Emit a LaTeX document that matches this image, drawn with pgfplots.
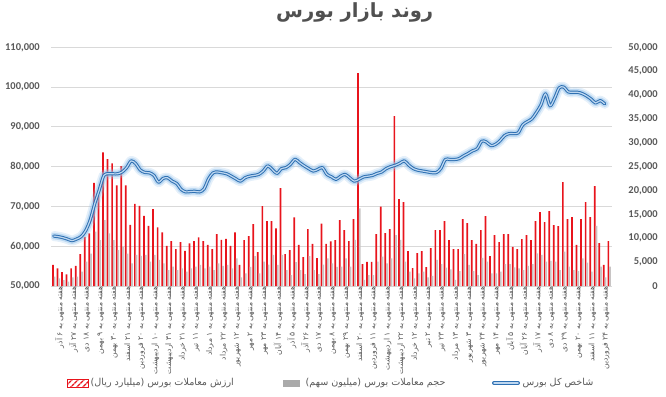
\documentclass[border=0pt]{standalone}
\usepackage{fontspec}
\setmainfont{Carlito}
\newfontfamily\farsi[Script=Arabic]{DejaVu Sans}
\TeXXeTstate=1
\usepackage{pgfplots}
\usepackage{pgfplotstable}
\pgfplotsset{compat=1.18}
\usetikzlibrary{patterns.meta}
\definecolor{barred}{RGB}{232,20,28}
\definecolor{barsgray}{RGB}{200,196,196}
\definecolor{legendgray}{RGB}{170,170,170}
\definecolor{linedark}{RGB}{46,112,178}
\definecolor{linelight}{RGB}{190,215,240}
\definecolor{glow}{RGB}{150,195,235}
\definecolor{gridgray}{RGB}{217,217,217}
\definecolor{textgray}{RGB}{89,89,89}
\definecolor{titlegray}{RGB}{80,80,80}

\pgfplotstableread[row sep=\\]{
i v\\
0 62550\\ 1 62400\\ 2 62150\\ 3 61800\\ 4 61400\\ 5 61800\\ 6 62400\\ 7 63900\\ 8 66600\\ 9 70700\\
10 74200\\ 11 77800\\ 12 78200\\ 13 78200\\ 14 78200\\ 15 78650\\ 16 79750\\ 17 81450\\ 18 80750\\ 19 79150\\
20 78550\\ 21 78450\\ 22 77800\\ 23 76100\\ 24 77050\\ 25 77200\\ 26 76350\\ 27 75750\\ 28 74250\\ 29 73650\\
30 73750\\ 31 73800\\ 32 73650\\ 33 74400\\ 34 76950\\ 35 78450\\ 36 78650\\ 37 78450\\ 38 78200\\ 39 77600\\
40 76950\\ 41 76350\\ 42 77200\\ 43 77600\\ 44 77800\\ 45 78050\\ 46 78900\\ 47 80200\\ 48 79300\\ 49 78300\\
50 79500\\ 51 79750\\ 52 80600\\ 53 81850\\ 54 81000\\ 55 80200\\ 56 79500\\ 57 78900\\ 58 79300\\ 59 79750\\
60 78050\\ 61 77450\\ 62 76800\\ 63 77600\\ 64 78050\\ 65 77200\\ 66 76350\\ 67 76800\\ 68 77400\\ 69 77600\\
70 77800\\ 71 78300\\ 72 78650\\ 73 79500\\ 74 80000\\ 75 80350\\ 76 80850\\ 77 81450\\ 78 80350\\ 79 79500\\
80 79100\\ 81 78900\\ 82 78700\\ 83 78500\\ 84 78500\\ 85 79500\\ 86 81800\\ 87 81800\\ 88 81800\\ 89 82000\\
90 82700\\ 91 83300\\ 92 84000\\ 93 84500\\ 94 86400\\ 95 86200\\ 96 85300\\ 97 85600\\ 98 86500\\ 99 87800\\
100 88300\\ 101 88300\\ 102 88500\\ 103 90500\\ 104 91300\\ 105 92000\\ 106 93600\\ 107 95500\\ 108 98300\\ 109 95300\\
110 97200\\ 111 99800\\ 112 100000\\ 113 98800\\ 114 98700\\ 115 98700\\ 116 98400\\ 117 97800\\ 118 97000\\ 119 96000\\
120 96600\\ 121 95800\\
}\indexdata

\pgfplotstableread[row sep=\\]{
i r g\\
0 4400 1950\\ 1 3700 1600\\ 2 2900 1250\\ 3 2450 900\\ 4 3700 1800\\ 5 4200 1950\\ 6 6700 3000\\ 7 10300 5100\\ 8 11000 6800\\ 9 21600 11400\\
10 19000 9600\\ 11 28000 13800\\ 12 26600 11000\\ 13 25700 9600\\ 14 21100 7500\\ 15 25100 8200\\ 16 21100 6800\\ 17 12800 4750\\ 18 17200 6500\\ 19 16800 6300\\
20 14700 6500\\ 21 12600 5100\\ 22 16100 6500\\ 23 12300 5450\\ 24 11250 4750\\ 25 8400 3350\\ 26 9400 4050\\ 27 7750 3350\\ 28 9200 3700\\ 29 7350 3000\\
30 8950 3700\\ 31 9400 4050\\ 32 10200 4400\\ 33 9400 3700\\ 34 8600 4050\\ 35 7750 3350\\ 36 10850 4750\\ 37 9650 4200\\ 38 9850 4400\\ 39 8400 3700\\
40 11250 5800\\ 41 4400 1800\\ 42 9630 2650\\ 43 10470 4000\\ 44 12980 6280\\ 45 7120 2650\\ 46 16750 5100\\ 47 13610 4500\\ 48 13610 6500\\ 49 12080 4400\\
50 20520 6500\\ 51 6700 3350\\ 52 7540 2300\\ 53 14380 5000\\ 54 8590 3350\\ 55 6070 2500\\ 56 11940 6280\\ 57 8800 3350\\ 58 5860 2500\\ 59 13050 4500\\
60 8800 5800\\ 61 9350 4750\\ 62 9630 4000\\ 63 13820 4050\\ 64 11730 5800\\ 65 9420 4050\\ 66 14030 9640\\ 67 44600 16270\\ 68 4600 1260\\ 69 5030 2300\\
70 5030 2300\\ 71 10890 5100\\ 72 16610 6150\\ 73 11100 4750\\ 74 11940 5800\\ 75 35600 10680\\ 76 18220 9640\\ 77 17590 5100\\ 78 7330 3000\\ 79 3770 1600\\
80 6910 2650\\ 81 7330 3000\\ 82 3980 1800\\ 83 7960 2100\\ 84 11730 5450\\ 85 11730 4600\\ 86 13610 3840\\ 87 9630 3500\\ 88 7750 1260\\ 89 7750 3140\\
90 14030 6700\\ 91 13190 4400\\ 92 9630 3140\\ 93 8800 2300\\ 94 11730 5870\\ 95 14660 5100\\ 96 6280 2650\\ 97 10680 2650\\ 98 9210 3000\\ 99 10890 4600\\
100 10890 4600\\ 101 8170 3900\\ 102 7750 3700\\ 103 9840 3350\\ 104 10680 4200\\ 105 9630 4600\\ 106 13610 6850\\ 107 15500 6500\\ 108 13400 5100\\ 109 15710 5240\\
110 12770 5100\\ 111 12560 3350\\ 112 21780 7190\\ 113 14030 4050\\ 114 14450 3350\\ 115 8590 3140\\ 116 14030 5800\\ 117 17590 4880\\ 118 14450 3000\\ 119 20940 12570\\
120 9000 4050\\ 121 4400 1800\\ 122 9420 4050\\
}\bardata

\begin{document}
\begin{tikzpicture}
\pgfplotsset{
  common/.style={
    at={(0pt,0pt)}, anchor=south west, scale only axis,
    width=560pt, height=238.7pt,
    xmin=-0.5, xmax=122.5,
    scaled y ticks=false,
    major tick length=0pt,
  },
}
% bars (right axis)
\begin{axis}[common,
  ymin=0, ymax=50000,
  axis y line*=right, axis x line*=bottom,
  x axis line style={-, draw=gridgray, line width=0.8pt},
  y axis line style={draw=none},
  ytick={0,5000,...,50000},
  yticklabels={0,{5,000},{10,000},{15,000},{20,000},{25,000},{30,000},{35,000},{40,000},{45,000},{50,000}},
  extra y ticks={8333.333,16666.667,25000,33333.333,41666.667,50000},
  extra y tick labels={},
  extra y tick style={grid=major},
  grid style={gridgray, line width=0.8pt},
  yticklabel style={anchor=east, inner sep=0pt, xshift=46.5pt, text=textgray, font=\bfseries\fontsize{10.5}{12}\selectfont},
  xtick={0,3,...,120},
  xticklabels={
  {\beginR هفته منتهی به ۶ آذر\endR},
  {\beginR هفته منتهی به ۲۷ آذر\endR},
  {\beginR هفته منتهی به ۱۸ دی\endR},
  {\beginR هفته منتهی به ۹ بهمن\endR},
  {\beginR هفته منتهی به ۳۰ بهمن\endR},
  {\beginR هفته منتهی به ۲۱ اسفند\endR},
  {\beginR هفته منتهی به ۲۰ فروردین\endR},
  {\beginR هفته منتهی به ۱۰ اردیبهشت\endR},
  {\beginR هفته منتهی به ۳۱ اردیبهشت\endR},
  {\beginR هفته منتهی به ۲۱ خرداد\endR},
  {\beginR هفته منتهی به ۱۱ تیر\endR},
  {\beginR هفته منتهی به ۱ مرداد\endR},
  {\beginR هفته منتهی به ۲۲ مرداد\endR},
  {\beginR هفته منتهی به ۱۲ شهریور\endR},
  {\beginR هفته منتهی به ۲ مهر\endR},
  {\beginR هفته منتهی به ۲۳ مهر\endR},
  {\beginR هفته منتهی به ۱۴ آبان\endR},
  {\beginR هفته منتهی به ۵ آذر\endR},
  {\beginR هفته منتهی به ۲۶ آذر\endR},
  {\beginR هفته منتهی به ۱۷ دی\endR},
  {\beginR هفته منتهی به ۸ بهمن\endR},
  {\beginR هفته منتهی به ۲۹ بهمن\endR},
  {\beginR هفته منتهی به ۲۰ اسفند\endR},
  {\beginR هفته منتهی به ۱۱ فروردین\endR},
  {\beginR هفته منتهی به ۱ اردیبهشت\endR},
  {\beginR هفته منتهی به ۲۲ اردیبهشت\endR},
  {\beginR هفته منتهی به ۱۲ خرداد\endR},
  {\beginR هفته منتهی به ۲ تیر\endR},
  {\beginR هفته منتهی به ۲۳ تیر\endR},
  {\beginR هفته منتهی به ۱۳ مرداد\endR},
  {\beginR هفته منتهی به ۳ شهریور\endR},
  {\beginR هفته منتهی به ۲۴ شهریور\endR},
  {\beginR هفته منتهی به ۱۴ مهر\endR},
  {\beginR هفته منتهی به ۵ آبان\endR},
  {\beginR هفته منتهی به ۲۶ آبان\endR},
  {\beginR هفته منتهی به ۱۷ آذر\endR},
  {\beginR هفته منتهی به ۸ دی\endR},
  {\beginR هفته منتهی به ۲۹ دی\endR},
  {\beginR هفته منتهی به ۲۰ بهمن\endR},
  {\beginR هفته منتهی به ۱۱ اسفند\endR},
  {\beginR هفته منتهی به ۲۴ فروردین\endR}},
  xticklabel style={rotate=90, anchor=east, inner sep=0pt, yshift=-6pt, text=textgray, font=\farsi\fontsize{7.6}{8.5}\selectfont},
  ybar=0pt, bar width=1.7pt,
]
\addplot[fill=barred, draw=none] table[x=i, y=r] {\bardata};
\addplot[fill=barsgray, draw=none] table[x=i, y=g] {\bardata};
\end{axis}
% index (left axis)
\begin{axis}[common,
  ymin=50000, ymax=110000,
  axis y line*=left, axis x line=none,
  y axis line style={draw=none},
  ytick={50000,60000,...,110000},
  yticklabels={{50,000},{60,000},{70,000},{80,000},{90,000},{100,000},{110,000}},
  yticklabel style={anchor=east, inner sep=0pt, xshift=-11.5pt, text=textgray, font=\bfseries\fontsize{10.5}{12}\selectfont},
]
\addplot[smooth, line width=10pt, color=glow, opacity=0.25, line cap=round, line join=round] table[x=i, y=v] {\indexdata};
\addplot[smooth, line width=6.5pt, color=glow, opacity=0.5, line cap=round, line join=round] table[x=i, y=v] {\indexdata};
\addplot[smooth, line width=3.2pt, color=linedark, line cap=round, line join=round] table[x=i, y=v] {\indexdata};
\addplot[smooth, line width=1.2pt, color=linelight, line cap=round, line join=round] table[x=i, y=v] {\indexdata};
\end{axis}
% title
\node[anchor=west, inner sep=0pt, font=\farsi\bfseries\fontsize{19.5}{23}\selectfont, text=titlegray] at (224.5pt,274pt) {\beginR روند بازار بورس\endR};
% legend
\draw[draw=barred, line width=0.8pt, pattern={Lines[angle=45,distance=4pt,line width=1.6pt]}, pattern color=barred] (15.5pt,-101pt) rectangle (36.5pt,-93pt);
\node[anchor=west, inner sep=0pt, font=\farsi\fontsize{9.6}{11}\selectfont, text=textgray] at (39pt,-97pt) {\beginR ارزش معاملات بورس (میلیارد ریال)\endR};
\fill[legendgray] (231.5pt,-100.5pt) rectangle (248.5pt,-93.5pt);
\node[anchor=west, inner sep=0pt, font=\farsi\fontsize{9.6}{11}\selectfont, text=textgray] at (254pt,-97pt) {\beginR حجم معاملات بورس (میلیون سهم)\endR};
\draw[linedark, line width=4pt, line cap=round] (442.5pt,-97pt) -- (466.5pt,-97pt);
\draw[linelight, line width=1.5pt, line cap=round] (442.5pt,-97pt) -- (466.5pt,-97pt);
\node[anchor=west, inner sep=0pt, font=\farsi\fontsize{9.6}{11}\selectfont, text=textgray] at (471pt,-97pt) {\beginR شاخص کل بورس\endR};
\pgfresetboundingbox
\path[use as bounding box] (-51.5pt,-110pt) rectangle (614.5pt,286pt);
\end{tikzpicture}
\end{document}
